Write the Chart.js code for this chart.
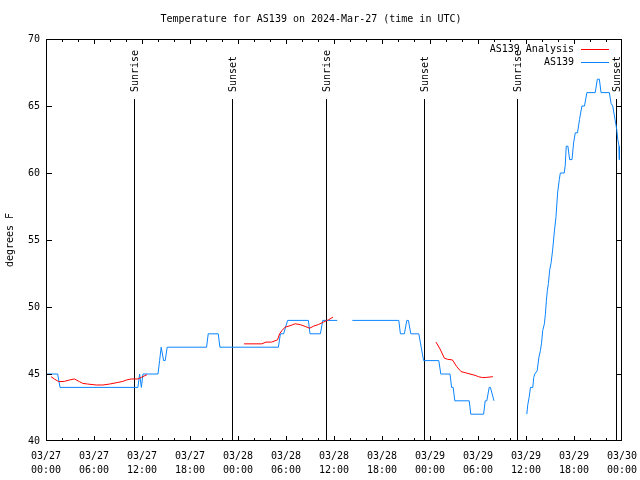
<!DOCTYPE html>
<html>
<head>
<meta charset="utf-8">
<script src="https://cdn.jsdelivr.net/npm/chart.js@4.4.1/dist/chart.umd.min.js"></script>
<style>
  html, body { margin: 0; padding: 0; background: #fff; }
</style>
</head>
<body>
<canvas id="tempChart" width="640" height="480"></canvas>
<script>
// hours since 03/27 00:00 UTC
const tickDates = ['03/27', '03/27', '03/27', '03/27', '03/28', '03/28', '03/28', '03/28', '03/29', '03/29', '03/29', '03/29', '03/30'];
const tickTimes = ['00:00', '06:00', '12:00', '18:00', '00:00', '06:00', '12:00', '18:00', '00:00', '06:00', '12:00', '18:00', '00:00'];

const sunHours = [11.0, 23.27, 35.05, 47.27, 58.9, 71.27];
const sunLabels = ['Sunrise', 'Sunset', 'Sunrise', 'Sunset', 'Sunrise', 'Sunset'];

// observed (null = no data)
const obsHours = [0, 1.46, 1.75, 11.49, 11.7, 11.92, 12.12, 14.0, 14.2, 14.4, 14.7, 14.9, 15.15, 20.07, 20.28, 21.53, 21.74,
  29.05, 29.3, 29.7, 30.2, 32.8, 33.0, 34.3, 34.6, 36.4, 37.3,
  38.3, 44.1, 44.3, 44.8, 45.1, 45.3, 45.6, 46.6, 46.9, 47.2, 49.1, 49.35, 50.5, 50.7, 50.9, 51.1, 52.9, 53.1, 54.7, 54.9, 55.1, 55.4, 55.55, 56.0, 58.0,
  60.1, 60.22, 60.39, 60.56, 60.85, 60.97, 61.1, 61.4, 61.6, 61.8, 61.93, 62.09, 62.3, 62.42, 62.55, 62.67, 62.8, 62.96, 63.14, 63.33,
  63.54, 63.75, 63.95, 64.16, 64.29, 64.78, 64.91, 65.03, 65.24, 65.45, 65.75, 65.95, 66.16, 66.44, 66.69, 66.99, 67.31, 67.61, 68.65,
  68.92, 69.17, 69.38, 70.42, 70.63, 70.84, 71.13, 71.34, 71.47, 71.63, 71.67];
const obsTemps = [45, 45, 44, 44, 45, 44, 45, 45, 46, 47, 46, 46, 47, 47, 48, 48, 47,
  47, 48, 48, 49, 49, 48, 48, 49, 49, null,
  49, 49, 48, 48, 49, 49, 48, 48, 47, 46, 46, 45, 45, 44, 44, 43, 43, 42, 42, 43, 43, 44, 44, 43, null,
  42, 42.7, 43.25, 44, 44, 44.75, 45, 45.25, 46.2, 46.75, 47.25, 48.25, 48.75, 49.45, 50.5, 51.25, 51.75, 52.75, 53.3, 54.25,
  55.6, 56.75, 58.5, 59.5, 60, 60, 60.6, 62, 62, 61, 61, 62.25, 63, 63, 64, 65, 65, 66, 66,
  67, 67, 66, 66, 65.2, 65, 64, 63.25, 62.5, 62, 61];

// analysis
const anaHours = [0.63, 1.04, 1.58, 2.3, 2.92, 3.55, 4.18, 4.59, 5.22, 6.27, 7.1, 7.94, 8.98, 9.61, 10.04, 10.67, 11.49, 11.92, 12.62, 18.0,
  24.76, 26.98, 27.5, 28.2, 28.94, 29.2, 29.5, 29.9, 30.5, 31.15, 31.8, 32.4, 32.95, 33.45, 34.08, 34.7, 35.33, 35.88, 42.0,
  48.75, 49.25, 49.8, 50.17, 50.8, 51.34, 51.88, 52.4, 53.0, 53.64, 54.05, 54.6, 55.1, 55.86, 58.0,
  60.79, 60.87];
const anaTemps = [44.8, 44.63, 44.43, 44.45, 44.55, 44.63, 44.43, 44.3, 44.25, 44.18, 44.18, 44.25, 44.37, 44.45, 44.55, 44.63, 44.63, 44.75, 44.95, null,
  47.25, 47.25, 47.38, 47.38, 47.55, 48.0, 48.25, 48.5, 48.6, 48.75, 48.68, 48.55, 48.42, 48.57, 48.7, 48.88, 49.05, 49.25, null,
  47.38, 46.87, 46.18, 46.1, 46.05, 45.55, 45.18, 45.1, 45.0, 44.9, 44.8, 44.73, 44.75, 44.8, null,
  46.05, 46.05];

const FONT = '10px "DejaVu Sans Mono"';

// gnuplot style frame: border, inward ticks, sunrise/sunset lines, legend
const gnuplotLook = {
  id: 'gnuplotLook',
  beforeDatasetsDraw(chart) {
    const { ctx, chartArea: a, scales: { x } } = chart;
    ctx.save();
    ctx.strokeStyle = '#000';
    ctx.fillStyle = '#000';
    ctx.lineWidth = 1;
    ctx.font = FONT;
    sunHours.forEach((h, i) => {
      const px = Math.round(x.getPixelForValue(h)) + 0.5;
      ctx.beginPath();
      ctx.moveTo(px, a.top + 60);
      ctx.lineTo(px, a.bottom);
      ctx.stroke();
      ctx.save();
      ctx.translate(px + 1, a.top + 53);
      ctx.rotate(-Math.PI / 2);
      ctx.textAlign = 'left';
      ctx.textBaseline = 'middle';
      ctx.fillText(sunLabels[i], 0, 0);
      ctx.restore();
    });
    ctx.restore();
  },
  afterDatasetsDraw(chart) {
    const { ctx, chartArea: a, scales: { x, y } } = chart;
    ctx.save();
    ctx.strokeStyle = '#000';
    ctx.lineWidth = 1;
    ctx.strokeRect(a.left + 0.5, a.top + 0.5, a.right - a.left - 1, a.bottom - a.top - 1);

    ctx.beginPath();
    for (let v = 45; v < 70; v += 5) {
      const py = Math.round(y.getPixelForValue(v)) + 0.5;
      ctx.moveTo(a.left, py); ctx.lineTo(a.left + 6, py);
      ctx.moveTo(a.right, py); ctx.lineTo(a.right - 6, py);
    }
    for (let h = 2; h < 72; h += 2) {
      const px = Math.round(x.getPixelForValue(h)) + 0.5;
      const len = h % 6 === 0 ? 5 : 3;
      ctx.moveTo(px, a.bottom); ctx.lineTo(px, a.bottom - len);
      ctx.moveTo(px, a.top); ctx.lineTo(px, a.top + len);
    }
    ctx.stroke();

    // legend
    ctx.font = FONT;
    ctx.textAlign = 'right';
    ctx.textBaseline = 'middle';
    chart.data.datasets.forEach((ds, i) => {
      const yy = a.top + 10 + i * 13;
      ctx.fillStyle = '#000';
      ctx.fillText(ds.label, a.right - 48, yy);
      ctx.strokeStyle = ds.borderColor;
      ctx.beginPath();
      ctx.moveTo(a.right - 41, Math.round(yy) + 0.5);
      ctx.lineTo(a.right - 13, Math.round(yy) + 0.5);
      ctx.stroke();
    });
    ctx.restore();
  }
};

Chart.defaults.font.family = '"DejaVu Sans Mono"';
Chart.defaults.font.size = 10;
Chart.defaults.color = '#000';

const ctx = document.getElementById('tempChart').getContext('2d');
new Chart(ctx, {
  type: 'scatter',
  data: {
    datasets: [{
      label: 'AS139 Analysis',
      data: anaHours.map((h, i) => ({ x: h, y: anaTemps[i] })),
      borderColor: '#ff0000',
      borderWidth: 1,
      showLine: true,
      pointRadius: 0,
      spanGaps: false
    }, {
      label: 'AS139',
      data: obsHours.map((h, i) => ({ x: h, y: obsTemps[i] })),
      borderColor: '#0a84ff',
      borderWidth: 1,
      showLine: true,
      pointRadius: 0,
      spanGaps: false
    }]
  },
  options: {
    responsive: false,
    animation: false,
    devicePixelRatio: 1,
    layout: { padding: { left: 0, right: 18, top: 0, bottom: 0 } },
    plugins: {
      legend: { display: false },
      tooltip: { enabled: false },
      title: {
        display: true,
        text: 'Temperature for AS139 on 2024-Mar-27 (time in UTC)',
        font: { size: 10, lineHeight: 1.2, weight: 'normal' },
        color: '#000',
        padding: { top: 13, bottom: 14 }
      }
    },
    scales: {
      x: {
        type: 'linear',
        min: 0,
        max: 72,
        afterFit: s => { s.height = 39; s.paddingLeft = 0; s.paddingRight = 0; },
        afterBuildTicks: s => { s.ticks = tickDates.map((_, i) => ({ value: i * 6 })); },
        ticks: {
          autoSkip: false,
          maxRotation: 0,
          padding: 8,
          font: { size: 10, lineHeight: 1.4 },
          callback: v => [tickDates[v / 6], tickTimes[v / 6]]
        },
        grid: { display: false, drawTicks: false },
        border: { display: false }
      },
      y: {
        min: 40,
        max: 70,
        afterFit: s => { s.width = 46; s.paddingTop = 0; s.paddingBottom = 0; },
        ticks: { stepSize: 5, padding: 6 },
        grid: { display: false, drawTicks: false },
        border: { display: false },
        title: {
          display: true,
          text: 'degrees F',
          font: { size: 10 },
          padding: { top: 4, bottom: 4 }
        }
      }
    }
  },
  plugins: [gnuplotLook]
});
</script>
</body>
</html>
